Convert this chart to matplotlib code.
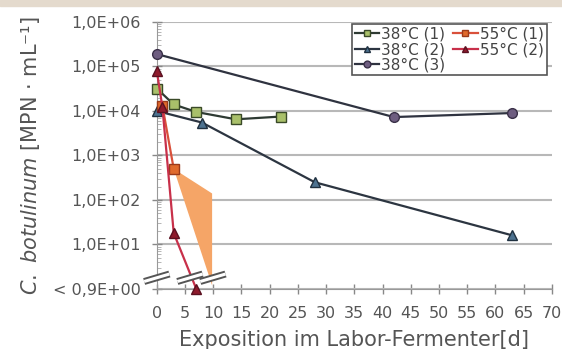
import matplotlib.pyplot as plt
import matplotlib.patches as mpatches
import numpy as np

# MPN counts per series (days, MPN/mL)
days_38_1 = [0, 3, 7, 14, 22]
mpn_38_1 = [3.2e4, 1.4e4, 9.5e3, 6.5e3, 7.5e3]
days_38_2 = [0, 8, 28, 63]
mpn_38_2 = [1.0e4, 5.5e3, 2.5e2, 16]
days_38_3 = [0, 42, 63]
mpn_38_3 = [1.9e5, 7.3e3, 9.0e3]
days_55_1 = [1, 3]
mpn_55_1 = [1.3e4, 5.0e2]
days_55_2 = [0, 1, 3, 7]
mpn_55_2 = [8.0e4, 1.2e4, 18, 1.0]

# uncertainty band after the last 55°C (1) count
band_days = [3, 9.8, 9.8]
band_mpn = [5.0e2, 1.4e2, 1.2]

ytick_vals = [1e0, 1e1, 1e2, 1e3, 1e4, 1e5, 1e6]
ytick_labels = ["< 0,9E+00", "1,0E+01", "1,0E+02", "1,0E+03", "1,0E+04", "1,0E+05", "1,0E+06"]
xtick_vals = list(range(0, 75, 5))

fig = plt.figure(figsize=(5.62, 3.49), dpi=100)
fig.patches.append(mpatches.Rectangle((0, 0.982), 1, 0.018, transform=fig.transFigure,
                                      color="#e4dacd", zorder=0))
ax = fig.add_axes([0.279, 0.172, 0.703, 0.765])

ax.fill(band_days, band_mpn, color="#f5a567", lw=0, zorder=2)

lk = dict(lw=1.6, markersize=7, markeredgewidth=1.0, clip_on=False, zorder=4)
ax.plot(days_38_1, mpn_38_1, "-s", color="#2e3a33", mfc="#a9c06a", mec="#3a4a28", label="38°C (1)", **lk)
ax.plot(days_38_2, mpn_38_2, "-^", color="#2c3541", mfc="#4d7290", mec="#1f3040", label="38°C (2)", **lk)
ax.plot(days_38_3, mpn_38_3, "-o", color="#2f3340", mfc="#6e5d80", mec="#3a3048", label="38°C (3)", **lk)
ax.plot(days_55_1, mpn_55_1, "-s", color="#d9503a", mfc="#e06a2c", mec="#9a3a1a", label="55°C (1)", **lk)
ax.plot(days_55_2, mpn_55_2, "-^", color="#c8304a", mfc="#8e1a2c", mec="#5a1020", label="55°C (2)", **lk)

ax.set_yscale("log")
ax.set_ylim(1, 1e6)
ax.set_xlim(0, 70)
ax.set_yticks(ytick_vals)
ax.set_yticklabels(ytick_labels)
ax.set_xticks(xtick_vals)
ax.yaxis.set_minor_locator(plt.matplotlib.ticker.LogLocator(base=10, subs=np.arange(2, 10)))
ax.yaxis.set_minor_formatter(plt.NullFormatter())
ax.tick_params(axis="both", which="major", direction="inout", colors="#888888",
               labelcolor="#555555", length=7, width=1)
ax.tick_params(axis="y", which="minor", direction="in", colors="#aaaaaa", length=3)
ax.tick_params(axis="x", labelsize=11.5, pad=9)
ax.tick_params(axis="y", labelsize=11.5, pad=8)

ax.grid(axis="y", which="major", color="#b8b8b8", lw=1.5)
ax.set_axisbelow(True)
for side in ["top", "right"]:
    ax.spines[side].set_visible(False)
for side in ["left", "bottom"]:
    ax.spines[side].set_color("#999999")

# axis break markers
for xc in [0.0, 0.084, 0.142]:
    xs = [xc - 0.032, xc + 0.032]
    ys = [0.028, 0.056]
    ax.plot(xs, ys, transform=ax.transAxes, color="#555555", lw=5, clip_on=False, zorder=6,
            solid_capstyle="butt")
    ax.plot(xs, ys, transform=ax.transAxes, color="white", lw=2.2, clip_on=False, zorder=7,
            solid_capstyle="butt")

ax.set_xlabel("Exposition im Labor-Fermenter[d]", fontsize=15, color="#555555", labelpad=6)
ax.set_ylabel(r"$\it{C.\ botulinum}$ [MPN · mL⁻¹]", fontsize=15, color="#555555", labelpad=8)

leg = ax.legend(ncol=2, loc="upper right", bbox_to_anchor=(0.995, 1.005), fontsize=11,
                handlelength=1.6, handletextpad=0.15, columnspacing=0.5, labelspacing=0.02,
                borderpad=0.2, borderaxespad=0.2, fancybox=False, framealpha=1, markerscale=0.7)
leg.get_frame().set_edgecolor("#555555")
leg.get_frame().set_linewidth(1.2)
for t in leg.get_texts():
    t.set_color("#444444")

fig.savefig("out.png", dpi=100)
